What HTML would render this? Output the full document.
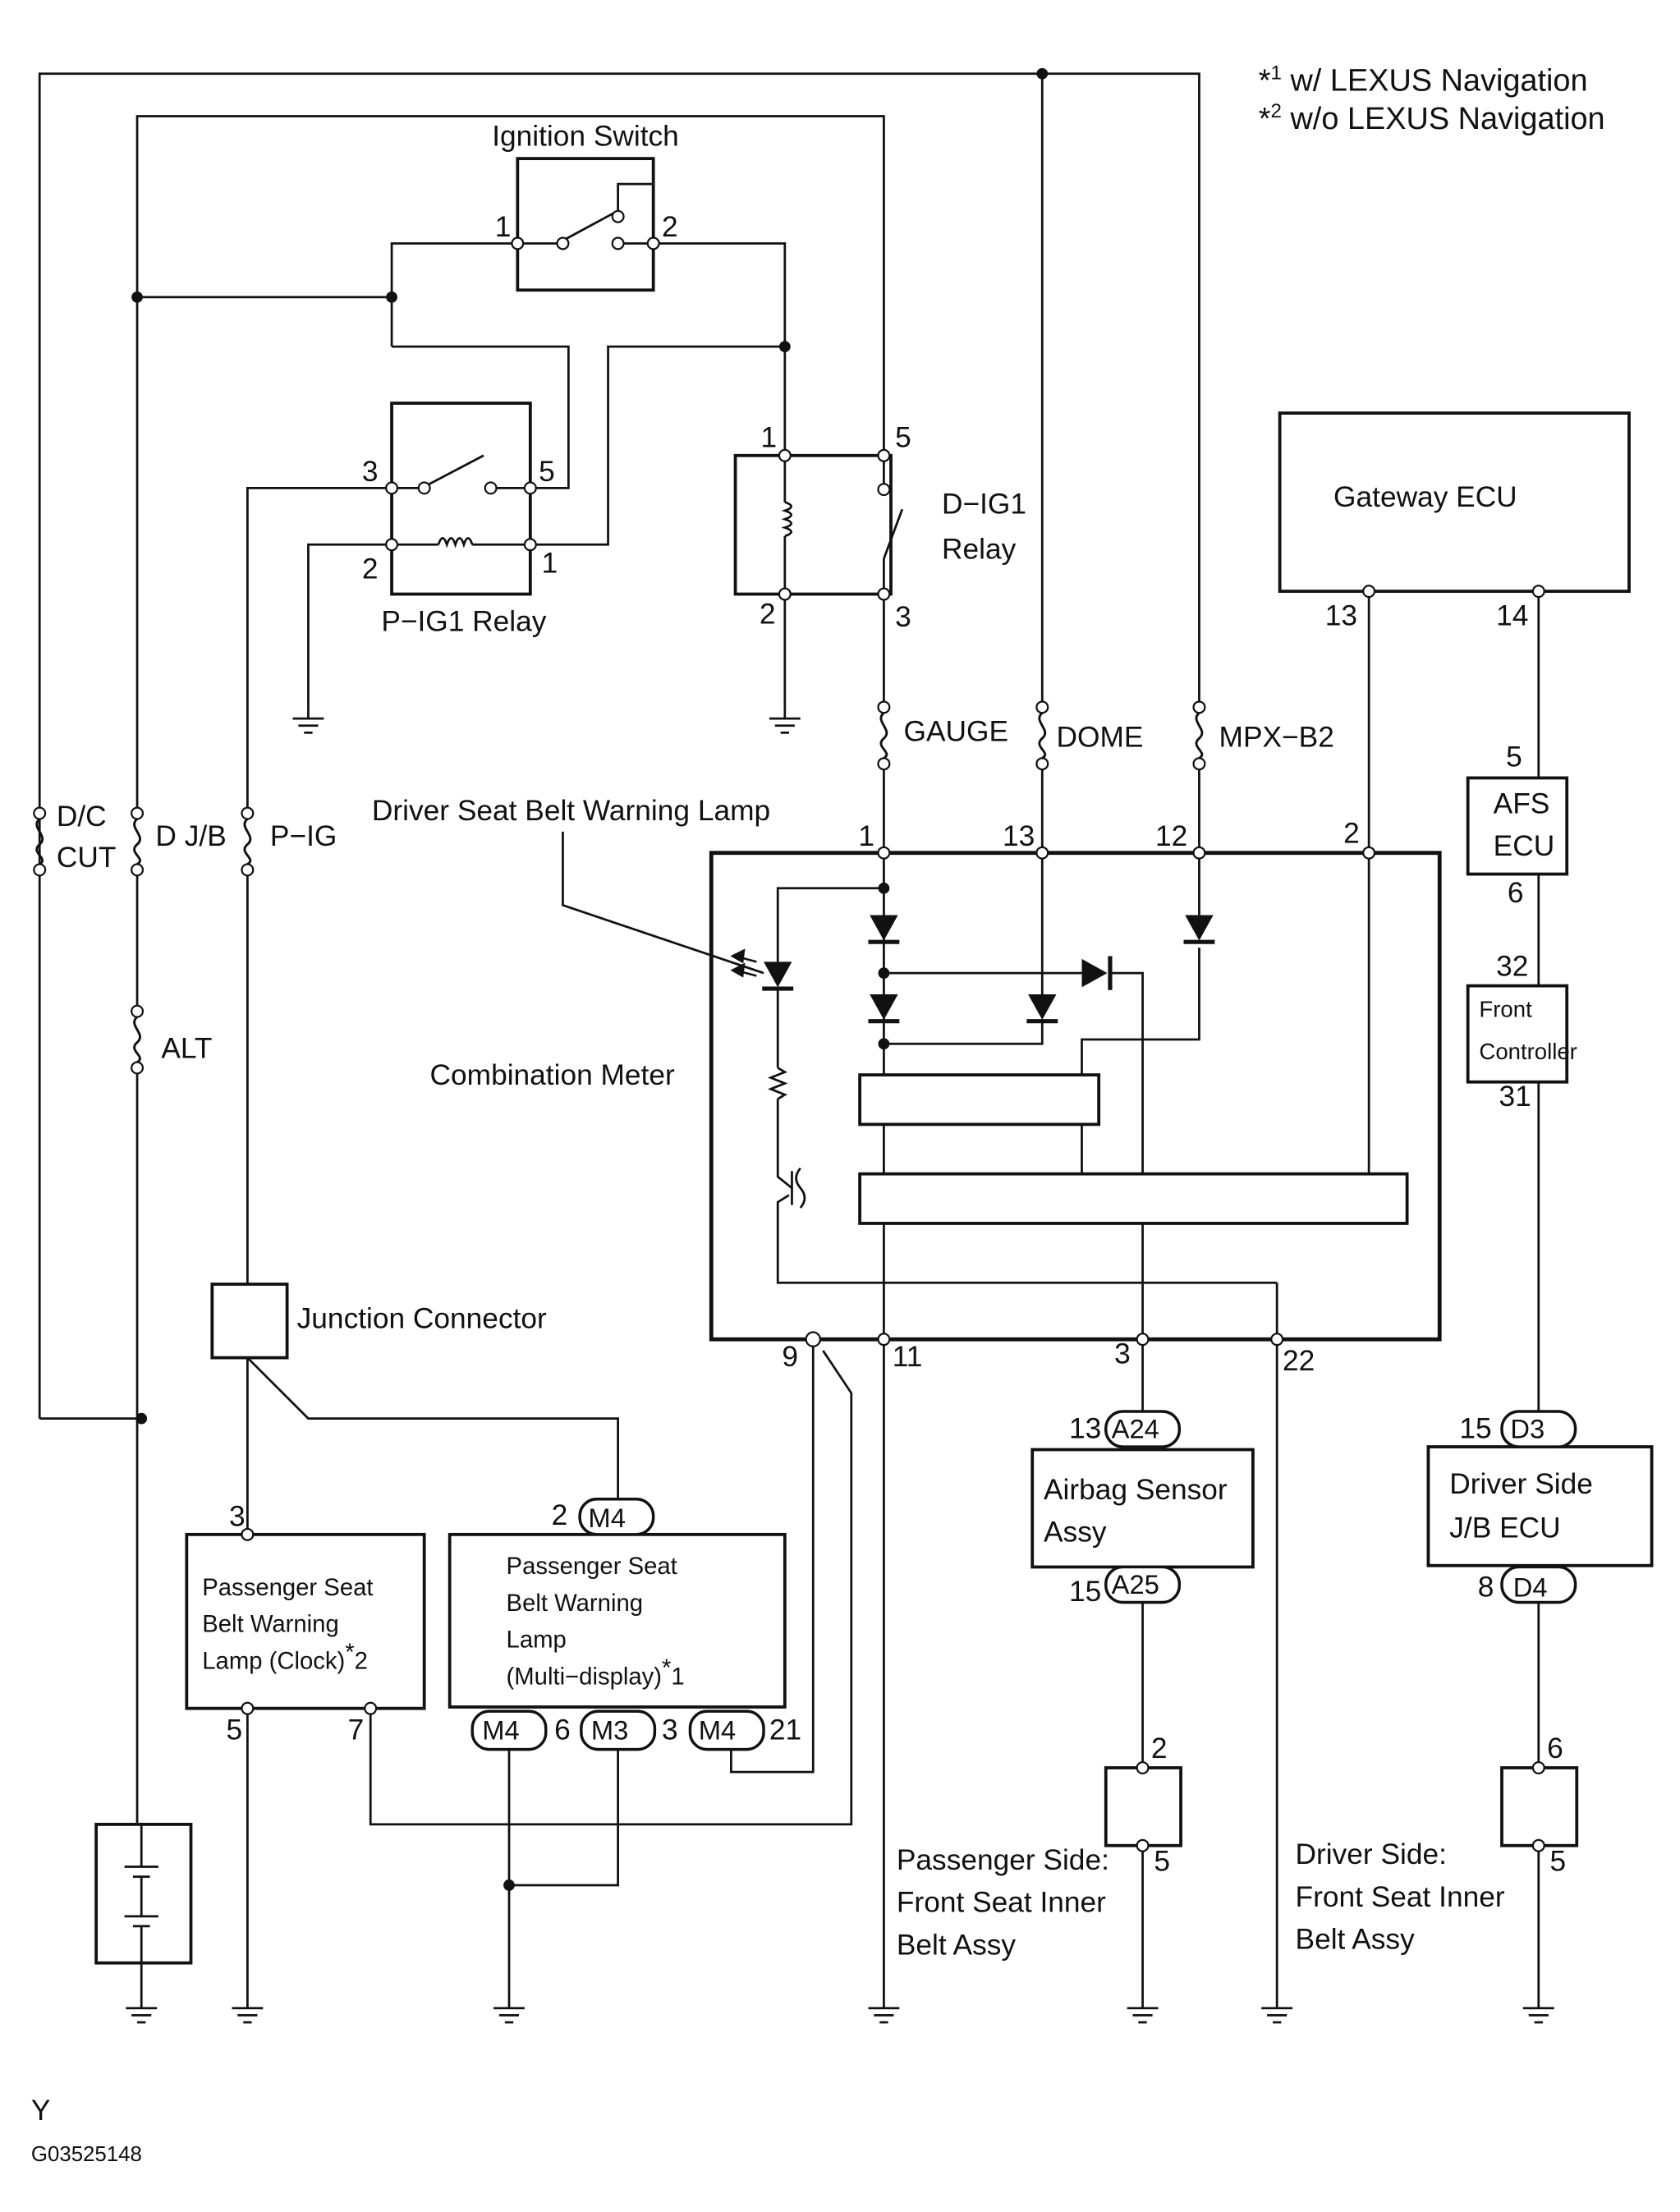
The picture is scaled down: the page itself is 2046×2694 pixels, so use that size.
<!DOCTYPE html>
<html><head><meta charset="utf-8"><style>
html,body{margin:0;padding:0;background:#fff;}
svg{display:block;}
text{font-family:"Liberation Sans",sans-serif;fill:#111;}
</style></head><body>
<svg width="2046" height="2694" viewBox="0 0 1188 1564" xmlns="http://www.w3.org/2000/svg">
<defs>
<g id="gnd"><line x1="0" y1="0" x2="0" y2="8" stroke="#111" stroke-width="1.6"/><line x1="-11" y1="8" x2="11" y2="8" stroke="#111" stroke-width="1.6"/><line x1="-7" y1="13" x2="7" y2="13" stroke="#111" stroke-width="1.6"/><line x1="-3" y1="18" x2="3" y2="18" stroke="#111" stroke-width="1.6"/></g>
<g id="fuse"><circle cx="0" cy="0" r="4" fill="#fff" stroke="#111" stroke-width="1.3"/><path d="M0 4 C-7 10,7 16,0 22 C-7 28,7 32,0 36" fill="none" stroke="#111" stroke-width="1.7"/><circle cx="0" cy="40" r="4" fill="#fff" stroke="#111" stroke-width="1.3"/></g>
<g id="dn"><polygon points="-10,0 10,0 0,18" fill="#111"/><line x1="-11" y1="19" x2="11" y2="19" stroke="#111" stroke-width="3"/></g>
</defs>
<rect width="1188" height="1564" fill="#fff"/>
<g fill="none" stroke="#111" stroke-width="1.6">
<polyline points="28,1003 28,52 848,52 848,500"/>
<line x1="737" y1="52" x2="737" y2="500"/>
<polyline points="97,575 97,82 625,82 625,322"/>
<line x1="97" y1="210" x2="277" y2="210"/>
<line x1="28" y1="1003" x2="100" y2="1003"/>
<rect x="366" y="112" width="96" height="93" stroke-width="2.2"/>
<polyline points="277,245 277,172 366,172"/>
<line x1="366" y1="172" x2="396" y2="172"/>
<line x1="398" y1="170" x2="435" y2="150"/>
<polyline points="437,172 462,172"/>
<polyline points="437,155 437,130 462,130 462,172"/>
<polyline points="462,172 555,172 555,322"/>
<polyline points="277,245 402,245 402,345 375,345"/>
<polyline points="555,245 430,245 430,385 375,385"/>
<rect x="277" y="285" width="98" height="135" stroke-width="2.2"/>
<line x1="277" y1="345" x2="300" y2="345"/>
<line x1="302" y1="343" x2="342" y2="322"/>
<line x1="350" y1="345" x2="375" y2="345"/>
<line x1="277" y1="385" x2="310" y2="385"/>
<path d="M310 385 q3 -9 6 0 q3 -9 6 0 q3 -9 6 0 q3 -9 6 0"/>
<line x1="334" y1="385" x2="375" y2="385"/>
<polyline points="277,345 175,345 175,575"/>
<polyline points="277,385 218,385 218,500"/>
<rect x="520" y="322" width="110" height="98" stroke-width="2.2"/>
<line x1="555" y1="322" x2="555" y2="355"/>
<path d="M555 355 q9 3 0 6 q9 3 0 6 q9 3 0 6 q9 3 0 6"/>
<line x1="555" y1="379" x2="555" y2="420"/>
<line x1="625" y1="322" x2="625" y2="342"/>
<line x1="625" y1="395" x2="638" y2="360"/>
<line x1="625" y1="395" x2="625" y2="420"/>
<line x1="555" y1="420" x2="555" y2="500"/>
<line x1="625" y1="420" x2="625" y2="500"/>
<line x1="625" y1="544" x2="625" y2="603"/>
<line x1="737" y1="544" x2="737" y2="603"/>
<line x1="848" y1="544" x2="848" y2="603"/>
<line x1="97" y1="615" x2="97" y2="715"/>
<line x1="97" y1="755" x2="97" y2="1290"/>
<line x1="175" y1="615" x2="175" y2="908"/>
<rect x="905" y="292" width="247" height="126" stroke-width="2.2"/>
<line x1="968" y1="418" x2="968" y2="830"/>
<line x1="1088" y1="418" x2="1088" y2="550"/>
<rect x="1038" y="550" width="70" height="68" stroke-width="2.2"/>
<line x1="1088" y1="618" x2="1088" y2="697"/>
<rect x="1038" y="697" width="70" height="68" stroke-width="2.2"/>
<line x1="1088" y1="765" x2="1088" y2="1000"/>
<rect x="1010" y="1023" width="158" height="84" stroke-width="2.2"/>
<line x1="1088" y1="1132" x2="1088" y2="1250"/>
<rect x="1062" y="1250" width="53" height="55" stroke-width="2.2"/>
<line x1="1088" y1="1305" x2="1088" y2="1412"/>
<rect x="503" y="603" width="515" height="344" stroke-width="2.8"/>
<line x1="625" y1="603" x2="625" y2="760"/>
<polyline points="625,628 550,628 550,680"/>
<line x1="550" y1="698" x2="550" y2="755"/>
<path d="M550 755 l5 3 l-10 4 l10 4 l-10 4 l10 4 l-5 3"/>
<polyline points="550,777 550,832 560,840"/>
<line x1="560" y1="828" x2="560" y2="852"/>
<path d="M566 826 q-6 7 0 14 q6 7 0 14"/>
<polyline points="558,845 550,850 550,907 903,907"/>
<line x1="625" y1="688" x2="765" y2="688"/>
<polyline points="785,688 808,688 808,830"/>
<polyline points="625,738 737,738 737,722"/>
<line x1="737" y1="603" x2="737" y2="705"/>
<line x1="848" y1="603" x2="848" y2="655"/>
<polyline points="848,670 848,735 765,735 765,760"/>
<rect x="608" y="760" width="169" height="35" stroke-width="2.2"/>
<line x1="625" y1="795" x2="625" y2="830"/>
<line x1="765" y1="795" x2="765" y2="830"/>
<rect x="608" y="830" width="387" height="35" stroke-width="2.2"/>
<line x1="625" y1="865" x2="625" y2="1412"/>
<line x1="808" y1="865" x2="808" y2="1000"/>
<line x1="903" y1="907" x2="903" y2="1412"/>
<polyline points="575,947 575,1253 517,1253 517,1235"/>
<polyline points="582,955 602,985 602,1290 262,1290 262,1208"/>
<rect x="150" y="908" width="53" height="52" stroke-width="2.2"/>
<line x1="175" y1="960" x2="175" y2="1085"/>
<polyline points="175,960 218,1003 437,1003 437,1060"/>
<rect x="132" y="1085" width="168" height="123" stroke-width="2.2"/>
<line x1="175" y1="1208" x2="175" y2="1412"/>
<rect x="318" y="1085" width="237" height="122" stroke-width="2.2"/>
<line x1="360" y1="1235" x2="360" y2="1412"/>
<polyline points="437,1235 437,1333 360,1333"/>
<rect x="730" y="1025" width="156" height="83" stroke-width="2.2"/>
<line x1="808" y1="1132" x2="808" y2="1250"/>
<rect x="782" y="1250" width="53" height="55" stroke-width="2.2"/>
<line x1="808" y1="1305" x2="808" y2="1412"/>
<rect x="68" y="1290" width="67" height="98" stroke-width="2.2"/>
<line x1="100" y1="1290" x2="100" y2="1320"/>
<line x1="88" y1="1320" x2="112" y2="1320"/><line x1="94" y1="1327" x2="106" y2="1327"/>
<line x1="100" y1="1327" x2="100" y2="1355"/>
<line x1="88" y1="1355" x2="112" y2="1355"/><line x1="94" y1="1362" x2="106" y2="1362"/>
<line x1="100" y1="1362" x2="100" y2="1412"/>
<polyline points="398,588 398,640 540,688"/>
</g>
<g stroke="#111" stroke-width="1.5" fill="#111">
<line x1="535" y1="680" x2="520" y2="676"/><polygon points="518,676 526,672 525,680"/>
<line x1="535" y1="690" x2="520" y2="686"/><polygon points="518,686 526,682 525,690"/>
</g>
<use href="#dn" x="550" y="680"/>
<use href="#dn" x="625" y="647"/>
<use href="#dn" x="625" y="703"/>
<use href="#dn" x="737" y="703"/>
<use href="#dn" x="848" y="647"/>
<polygon points="765,678 765,698 783,688" fill="#111"/><line x1="785" y1="676" x2="785" y2="700" stroke="#111" stroke-width="3"/>
<use href="#fuse" x="625" y="500"/>
<use href="#fuse" x="737" y="500"/>
<use href="#fuse" x="848" y="500"/>
<use href="#fuse" x="28" y="575"/>
<use href="#fuse" x="97" y="575"/>
<use href="#fuse" x="175" y="575"/>
<use href="#fuse" x="97" y="715"/>
<use href="#gnd" x="218" y="500"/><use href="#gnd" x="555" y="500"/>
<use href="#gnd" x="100" y="1412"/><use href="#gnd" x="175" y="1412"/><use href="#gnd" x="360" y="1412"/>
<use href="#gnd" x="625" y="1412"/><use href="#gnd" x="808" y="1412"/><use href="#gnd" x="903" y="1412"/><use href="#gnd" x="1088" y="1412"/>
<g fill="#111">
<circle cx="737" cy="52" r="4"/><circle cx="97" cy="210" r="4"/><circle cx="277" cy="210" r="4"/>
<circle cx="555" cy="245" r="4"/><circle cx="100" cy="1003" r="4"/><circle cx="360" cy="1333" r="4"/>
<circle cx="625" cy="628" r="4"/><circle cx="625" cy="688" r="4"/><circle cx="625" cy="738" r="4"/>
</g>
<g fill="#fff" stroke="#111" stroke-width="1.3">
<circle cx="366" cy="172" r="4"/><circle cx="462" cy="172" r="4"/><circle cx="398" cy="172" r="4"/><circle cx="437" cy="172" r="4"/><circle cx="437" cy="153" r="4"/>
<circle cx="277" cy="345" r="4"/><circle cx="375" cy="345" r="4"/><circle cx="277" cy="385" r="4"/><circle cx="375" cy="385" r="4"/><circle cx="300" cy="345" r="4"/><circle cx="347" cy="345" r="4"/>
<circle cx="555" cy="322" r="4"/><circle cx="625" cy="322" r="4"/><circle cx="555" cy="420" r="4"/><circle cx="625" cy="420" r="4"/><circle cx="625" cy="346" r="4"/>
<circle cx="968" cy="418" r="4"/><circle cx="1088" cy="418" r="4"/>
<circle cx="625" cy="603" r="4"/><circle cx="737" cy="603" r="4"/><circle cx="848" cy="603" r="4"/><circle cx="968" cy="603" r="4"/>
<circle cx="575" cy="947" r="5"/><circle cx="625" cy="947" r="4"/><circle cx="808" cy="947" r="4"/><circle cx="903" cy="947" r="4"/>
<circle cx="175" cy="1085" r="4"/><circle cx="175" cy="1208" r="4"/><circle cx="262" cy="1208" r="4"/>
<circle cx="808" cy="1250" r="4"/><circle cx="808" cy="1305" r="4"/><circle cx="1088" cy="1250" r="4"/><circle cx="1088" cy="1305" r="4"/>
</g>
<g fill="#fff" stroke="#111" stroke-width="2">
<rect x="410" y="1060" width="52" height="25" rx="12"/>
<rect x="334" y="1210" width="52" height="27" rx="12"/>
<rect x="411" y="1210" width="52" height="27" rx="12"/>
<rect x="488" y="1210" width="52" height="27" rx="12"/>
<rect x="782" y="998" width="52" height="25" rx="12"/>
<rect x="782" y="1108" width="52" height="25" rx="12"/>
<rect x="1062" y="998" width="52" height="25" rx="12"/>
<rect x="1062" y="1108" width="52" height="25" rx="12"/>
</g>
<g font-size="20.5">
<text x="890" y="64" font-size="22">*<tspan font-size="14" dy="-8">1</tspan><tspan dy="8"> w/ LEXUS Navigation</tspan></text>
<text x="890" y="91" font-size="22">*<tspan font-size="14" dy="-8">2</tspan><tspan dy="8"> w/o LEXUS Navigation</tspan></text>
<text x="414" y="103" text-anchor="middle">Ignition Switch</text>
<text x="350" y="167">1</text><text x="468" y="167">2</text>
<text x="256" y="340">3</text><text x="381" y="340">5</text>
<text x="256" y="409">2</text><text x="383" y="405">1</text>
<text x="328" y="446" text-anchor="middle">P−IG1 Relay</text>
<text x="538" y="316">1</text><text x="633" y="316">5</text>
<text x="537" y="441">2</text><text x="633" y="443">3</text>
<text x="666" y="363">D−IG1</text><text x="666" y="395">Relay</text>
<text x="943" y="358">Gateway ECU</text>
<text x="937" y="442">13</text><text x="1058" y="442">14</text>
<text x="639" y="524">GAUGE</text><text x="747" y="528">DOME</text><text x="862" y="528">MPX−B2</text>
<text x="263" y="580">Driver Seat Belt Warning Lamp</text>
<text x="607" y="598">1</text><text x="709" y="598">13</text><text x="817" y="598">12</text><text x="950" y="596">2</text>
<text x="1065" y="542">5</text>
<text x="1056" y="575">AFS</text><text x="1056" y="605">ECU</text>
<text x="1066" y="638">6</text><text x="1058" y="690">32</text>
<text x="1046" y="719" font-size="16">Front</text><text x="1046" y="749" font-size="16">Controller</text>
<text x="1060" y="782">31</text>
<text x="40" y="584">D/C</text><text x="40" y="613">CUT</text>
<text x="110" y="598">D J/B</text><text x="191" y="598">P−IG</text>
<text x="114" y="748">ALT</text>
<text x="304" y="767">Combination Meter</text>
<text x="210" y="939">Junction Connector</text>
<text x="553" y="966">9</text><text x="631" y="966">11</text><text x="788" y="964">3</text><text x="907" y="969">22</text>
<text x="756" y="1017">13</text><text x="786" y="1017" font-size="19">A24</text>
<text x="738" y="1060">Airbag Sensor</text><text x="738" y="1090">Assy</text>
<text x="756" y="1132">15</text><text x="786" y="1127" font-size="19">A25</text>
<text x="1032" y="1017">15</text><text x="1068" y="1017" font-size="19">D3</text>
<text x="1025" y="1056">Driver Side</text><text x="1025" y="1087">J/B ECU</text>
<text x="1045" y="1129">8</text><text x="1070" y="1129" font-size="19">D4</text>
<text x="814" y="1243">2</text><text x="816" y="1323">5</text>
<text x="1094" y="1243">6</text><text x="1096" y="1323">5</text>
<text x="634" y="1322">Passenger Side:</text><text x="634" y="1352">Front Seat Inner</text><text x="634" y="1382">Belt Assy</text>
<text x="916" y="1318">Driver Side:</text><text x="916" y="1348">Front Seat Inner</text><text x="916" y="1378">Belt Assy</text>
<text x="162" y="1079">3</text>
<text x="390" y="1078">2</text><text x="416" y="1080" font-size="19">M4</text>
<text x="143" y="1128" font-size="17">Passenger Seat</text><text x="143" y="1154" font-size="17">Belt Warning</text><text x="143" y="1180" font-size="17">Lamp (Clock)<tspan dy="-6">*</tspan><tspan dy="6">2</tspan></text>
<text x="358" y="1113" font-size="17">Passenger Seat</text><text x="358" y="1139" font-size="17">Belt Warning</text><text x="358" y="1165" font-size="17">Lamp</text><text x="358" y="1191" font-size="17">(Multi−display)<tspan dy="-6">*</tspan><tspan dy="6">1</tspan></text>
<text x="160" y="1230">5</text><text x="246" y="1230">7</text>
<text x="341" y="1230" font-size="19">M4</text><text x="392" y="1230">6</text>
<text x="418" y="1230" font-size="19">M3</text><text x="468" y="1230">3</text>
<text x="494" y="1230" font-size="19">M4</text><text x="544" y="1230">21</text>
<text x="22" y="1499">Y</text>
<text x="22" y="1528" font-size="15">G03525148</text>
</g>
</svg>
</body></html>
